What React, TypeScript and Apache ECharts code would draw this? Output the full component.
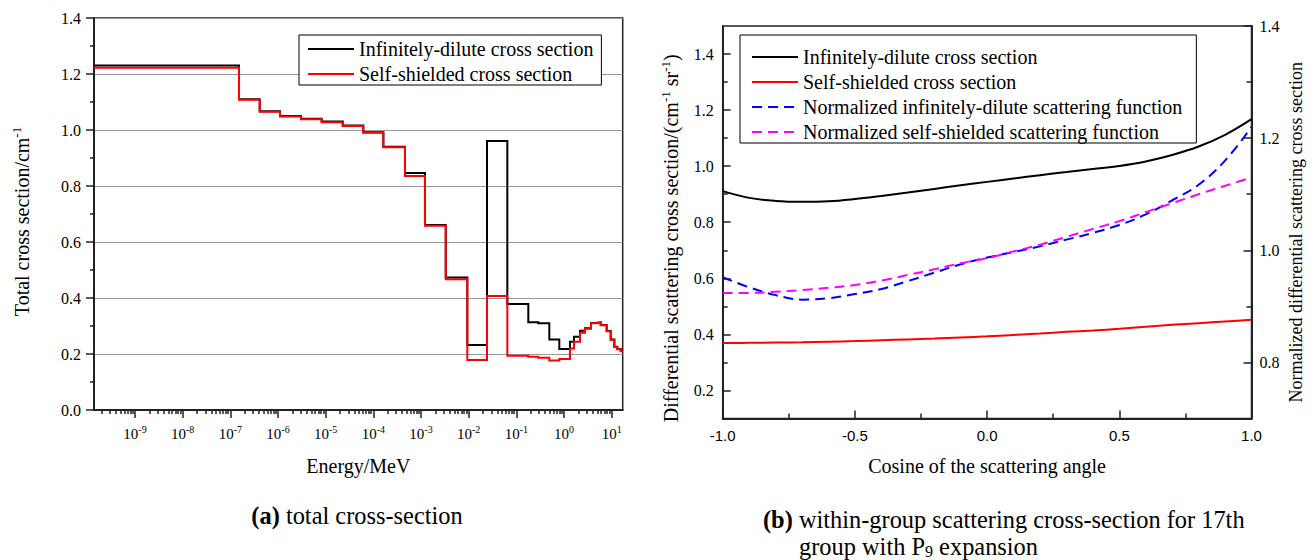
import React, { useEffect, useRef } from 'react';
import * as echarts from 'echarts';

// ---------- (a) total cross-section: group boundaries (MeV) and group values ----------
const energyBounds = [
  1.38e-10, 1.52e-7, 4.13e-7, 1.1e-6, 3.03e-6, 8.24e-6, 2.28e-5, 6.15e-5, 1.62e-4, 4.61e-4,
  1.21e-3, 3.3e-3, 9.35e-3, 2.42e-2, 6.46e-2, 0.178, 0.288, 0.491, 0.796, 1.33,
  1.62, 2.16, 2.75, 3.68, 4.47, 5.87, 7.85, 9.53, 11.35, 13.1, 15.5, 17.0,
];
const diluteTotal = [
  1.230, 1.110, 1.067, 1.050, 1.040, 1.030, 1.016, 0.992, 0.940, 0.846,
  0.661, 0.473, 0.232, 0.961, 0.379, 0.313, 0.310, 0.252, 0.218, 0.244,
  0.262, 0.283, 0.292, 0.311, 0.313, 0.304, 0.282, 0.252, 0.226, 0.218, 0.211,
];
const shieldedTotal = [
  1.222, 1.108, 1.065, 1.048, 1.038, 1.028, 1.014, 0.990, 0.938, 0.836,
  0.658, 0.467, 0.179, 0.407, 0.194, 0.190, 0.187, 0.177, 0.182, 0.220,
  0.244, 0.276, 0.290, 0.310, 0.312, 0.303, 0.281, 0.251, 0.225, 0.217, 0.210,
];
const decadeExponents = [-9, -8, -7, -6, -5, -4, -3, -2, -1, 0, 1];
const minorMantissas = [2, 3, 4, 5, 6, 7, 8, 9];

// ---------- (b) within-group scattering ----------
const cosines = [
  -1.0, -0.9, -0.8, -0.7, -0.6, -0.5, -0.4, -0.3, -0.2, -0.1, 0.0,
  0.1, 0.2, 0.3, 0.4, 0.5, 0.6, 0.7, 0.8, 0.9, 1.0,
];
const diffDilute = [
  0.911, 0.887, 0.876, 0.873, 0.875, 0.883, 0.894, 0.906, 0.919, 0.932, 0.944,
  0.956, 0.968, 0.979, 0.990, 1.001, 1.017, 1.040, 1.070, 1.112, 1.168,
];
const diffShielded = [
  0.369, 0.370, 0.371, 0.372, 0.374, 0.376, 0.379, 0.382, 0.385, 0.389, 0.393,
  0.398, 0.403, 0.409, 0.414, 0.420, 0.427, 0.434, 0.440, 0.446, 0.452,
];
const normDilute = [
  0.952, 0.934, 0.920, 0.912, 0.9145, 0.922, 0.931, 0.945, 0.960, 0.975, 0.987,
  0.997, 1.007, 1.019, 1.031, 1.045, 1.064, 1.089, 1.117, 1.160, 1.220,
];
const normShielded = [
  0.924, 0.924, 0.926, 0.929, 0.933, 0.938, 0.946, 0.956, 0.966, 0.977, 0.986,
  0.998, 1.010, 1.024, 1.038, 1.052, 1.068, 1.084, 1.100, 1.115, 1.130,
];
const leftTicksB = [0.2, 0.4, 0.6, 0.8, 1.0, 1.2, 1.4];
const leftMinorB = [0.3, 0.5, 0.7, 0.9, 1.1, 1.3];
const rightTicksB = [0.8, 1.0, 1.2, 1.4];
const rightMinorB = [0.9, 1.1, 1.3];

const NAME_D = 'Infinitely-dilute cross section';
const NAME_S = 'Self-shielded cross section';
const NAME_ND = 'Normalized infinitely-dilute scattering function';
const NAME_NS = 'Normalized self-shielded scattering function';

const SERIF = 'Liberation Serif, Times New Roman, serif';
const SANS = 'Liberation Sans, Arial, sans-serif';
const AX = '#222';
const CAP = 24.4;

function stepPoints(vals: number[]) {
  const pts = vals.map((v, i) => [Math.log10(energyBounds[i]), v]);
  pts.push([Math.log10(energyBounds[vals.length]), vals[vals.length - 1]]);
  return pts;
}
const pairs = (ys: number[]) => cosines.map((c, i) => [c, ys[i]]);

export default function App() {
  const ref = useRef<HTMLDivElement>(null);
  useEffect(() => {
    if (!ref.current) return;
    const chart = echarts.init(ref.current, undefined, { renderer: 'svg' });
    const logMin = Math.log10(energyBounds[0]);
    const logMax = Math.log10(energyBounds[energyBounds.length - 1]);
    const minorLogs: number[] = [];
    for (let k = -10; k <= 1; k++) {
      minorMantissas.forEach((m) => {
        const v = k + Math.log10(m);
        if (v > logMin && v < logMax) minorLogs.push(v);
      });
    }
    const tickLabel = { fontFamily: SERIF, fontSize: 16, color: '#000' };
    const legendCommon = {
      orient: 'vertical',
      itemGap: 5,
      itemWidth: 46,
      itemHeight: 14,
      borderColor: '#000',
      borderWidth: 1,
      borderRadius: 0,
      backgroundColor: '#fff',
      selectedMode: false,
      itemStyle: { opacity: 0 },
      textStyle: { fontFamily: SERIF, fontSize: 20, color: '#000' },
    };
    const supRich = {
      sup: { fontFamily: SERIF, fontSize: 13, lineHeight: 12, verticalAlign: 'top', color: '#000' },
    };
    const capRich = {
      b: { fontFamily: SERIF, fontSize: CAP, fontWeight: 'bold', fill: '#000', color: '#000' },
      r: { fontFamily: SERIF, fontSize: CAP, fill: '#000', color: '#000' },
    };

    chart.setOption({
      animation: false,
      backgroundColor: '#fff',
      grid: [
        { left: 94, top: 18, width: 528.7, height: 392, show: true, borderColor: AX, borderWidth: 1.5 },
        { left: 722.7, top: 26, width: 528.8, height: 392.5, show: true, borderColor: AX, borderWidth: 1.5 },
      ],
      legend: [
        { ...legendCommon, data: [NAME_D, NAME_S], left: 299, top: 35, padding: [4, 8, 1, 8] },
        { ...legendCommon, data: [NAME_D, NAME_S, NAME_ND, NAME_NS], left: 740, top: 35, padding: [12, 14, 1, 11] },
      ],
      xAxis: [
        {
          gridIndex: 0, type: 'value', min: logMin, max: logMax, position: 'bottom',
          axisLine: { show: true, onZero: false, lineStyle: { color: AX, width: 2 } },
          axisTick: { show: true, customValues: decadeExponents, length: 8, lineStyle: { color: AX, width: 1.5 } },
          axisLabel: {
            show: true, customValues: decadeExponents, margin: 14,
            formatter: (v: number) => `{b|10}{s|${Math.round(v)}}`,
            rich: {
              b: { fontFamily: SERIF, fontSize: 15, lineHeight: 20, color: '#000' },
              s: { fontFamily: SERIF, fontSize: 10, lineHeight: 10, verticalAlign: 'top', color: '#000' },
            },
          },
          splitLine: { show: false },
          name: 'Energy/MeV', nameLocation: 'middle', nameGap: 44,
          nameTextStyle: { fontFamily: SERIF, fontSize: 20, color: '#000', lineHeight: 24 },
        },
        {
          gridIndex: 0, type: 'value', min: logMin, max: logMax, position: 'bottom',
          axisLine: { show: false, onZero: false },
          axisTick: { show: true, customValues: minorLogs, length: 4, lineStyle: { color: AX, width: 1.5 } },
          axisLabel: { show: false },
          splitLine: { show: false },
        },
        {
          gridIndex: 1, type: 'value', min: -1, max: 1, interval: 0.5, position: 'bottom',
          axisLine: { show: true, onZero: false, lineStyle: { color: AX, width: 2 } },
          axisTick: { show: true, inside: true, length: 8, lineStyle: { color: AX, width: 1.5 } },
          minorTick: { show: true, splitNumber: 2, length: 5, lineStyle: { color: AX, width: 1.5 } },
          axisLabel: { show: true, margin: 9, fontFamily: SANS, fontSize: 15, color: '#000', formatter: (v: number) => v.toFixed(1) },
          splitLine: { show: false },
          name: 'Cosine of the scattering angle', nameLocation: 'middle', nameGap: 35,
          nameTextStyle: { fontFamily: SERIF, fontSize: 20, color: '#000', lineHeight: 24 },
        },
      ],
      yAxis: [
        {
          gridIndex: 0, type: 'value', min: 0, max: 1.4, interval: 0.2, position: 'left',
          axisLine: { show: true, onZero: false, lineStyle: { color: AX, width: 2 } },
          axisTick: { show: true, length: 8, lineStyle: { color: AX, width: 1.5 } },
          minorTick: { show: true, splitNumber: 2, length: 4, lineStyle: { color: AX, width: 1.5 } },
          axisLabel: { ...tickLabel, margin: 13, formatter: (v: number) => v.toFixed(1) },
          splitLine: { show: true, lineStyle: { color: '#999', width: 1 } },
          name: 'Total cross section/cm{sup|-1}', nameLocation: 'middle', nameGap: 60,
          nameTextStyle: { fontFamily: SERIF, fontSize: 20, color: '#000', lineHeight: 24, padding: [0, 15, 0, 0], rich: supRich },
        },
        {
          gridIndex: 1, type: 'value', min: 0.1, max: 1.5, position: 'left',
          axisLine: { show: true, onZero: false, lineStyle: { color: AX, width: 2 } },
          axisTick: { show: true, inside: true, customValues: leftTicksB, length: 8, lineStyle: { color: AX, width: 1.5 } },
          axisLabel: { ...tickLabel, customValues: leftTicksB, margin: 9, formatter: (v: number) => v.toFixed(1) },
          splitLine: { show: false },
          name: 'Differential scattering cross section/(cm{sup|-1} sr{sup|-1})', nameLocation: 'middle', nameGap: 40,
          nameTextStyle: { fontFamily: SERIF, fontSize: 20, color: '#000', lineHeight: 24, padding: [0, 32, 0, 0], rich: supRich },
        },
        {
          gridIndex: 1, type: 'value', min: 0.7, max: 1.4, position: 'right',
          axisLine: { show: true, onZero: false, lineStyle: { color: AX, width: 2 } },
          axisTick: { show: true, inside: true, customValues: rightTicksB, length: 8, lineStyle: { color: AX, width: 1.5 } },
          axisLabel: { ...tickLabel, customValues: rightTicksB, margin: 8, formatter: (v: number) => v.toFixed(1) },
          splitLine: { show: false },
          name: 'Normalized differential scattering cross section', nameLocation: 'middle', nameGap: 32,
          nameTextStyle: { fontFamily: SERIF, fontSize: 18, color: '#000', lineHeight: 24, padding: [0, 20, 0, 0] },
        },
        {
          gridIndex: 1, type: 'value', min: 0.1, max: 1.5, position: 'left',
          axisLine: { show: false, onZero: false },
          axisTick: { show: true, inside: true, customValues: leftMinorB, length: 5, lineStyle: { color: AX, width: 1.5 } },
          axisLabel: { show: false },
          splitLine: { show: false },
        },
        {
          gridIndex: 1, type: 'value', min: 0.7, max: 1.4, position: 'right',
          axisLine: { show: false, onZero: false },
          axisTick: { show: true, inside: true, customValues: rightMinorB, length: 5, lineStyle: { color: AX, width: 1.5 } },
          axisLabel: { show: false },
          splitLine: { show: false },
        },
      ],
      series: [
        {
          name: NAME_D, type: 'line', xAxisIndex: 0, yAxisIndex: 0, step: 'end', symbol: 'none',
          data: stepPoints(diluteTotal), lineStyle: { color: '#000', width: 2, join: 'miter' }, itemStyle: { color: '#000' }, z: 2,
        },
        {
          name: NAME_S, type: 'line', xAxisIndex: 0, yAxisIndex: 0, step: 'end', symbol: 'none',
          data: stepPoints(shieldedTotal), lineStyle: { color: '#ff0000', width: 2, join: 'miter' }, itemStyle: { color: '#ff0000' }, z: 3,
        },
        {
          name: NAME_D, type: 'line', xAxisIndex: 2, yAxisIndex: 1, smooth: 0.4, symbol: 'none',
          data: pairs(diffDilute), lineStyle: { color: '#000', width: 2 }, itemStyle: { color: '#000' }, z: 2,
        },
        {
          name: NAME_S, type: 'line', xAxisIndex: 2, yAxisIndex: 1, smooth: 0.4, symbol: 'none',
          data: pairs(diffShielded), lineStyle: { color: '#ff0000', width: 2 }, itemStyle: { color: '#ff0000' }, z: 2,
        },
        {
          name: NAME_ND, type: 'line', xAxisIndex: 2, yAxisIndex: 2, smooth: 0.4, symbol: 'none',
          data: pairs(normDilute), lineStyle: { color: '#0000ff', width: 2, type: [10, 6] }, itemStyle: { color: '#0000ff' }, z: 3,
        },
        {
          name: NAME_NS, type: 'line', xAxisIndex: 2, yAxisIndex: 2, smooth: 0.4, symbol: 'none',
          data: pairs(normShielded), lineStyle: { color: '#ff00ff', width: 2, type: [10, 6] }, itemStyle: { color: '#ff00ff' }, z: 4,
        },
      ],
      graphic: [
        {
          type: 'text', x: 357, y: 515,
          style: {
            text: '{b|(a)}{r| total cross-section}',
            fontFamily: SERIF, fontSize: CAP, fill: '#000',
            align: 'center', textAlign: 'center', verticalAlign: 'middle', textVerticalAlign: 'middle',
            rich: capRich,
          },
        },
        {
          type: 'text', x: 763, y: 519,
          style: {
            text: '{b|(b)}{r| within-group scattering cross-section for 17th}',
            fontFamily: SERIF, fontSize: CAP, fill: '#000',
            align: 'left', textAlign: 'left', verticalAlign: 'middle', textVerticalAlign: 'middle',
            rich: capRich,
          },
        },
        {
          type: 'text', x: 799, y: 546,
          style: {
            text: '{r|group with P}{sub|9}{r| expansion}',
            fontFamily: SERIF, fontSize: CAP, fill: '#000',
            align: 'left', textAlign: 'left', verticalAlign: 'middle', textVerticalAlign: 'middle',
            rich: {
              r: { fontFamily: SERIF, fontSize: CAP, lineHeight: 27, fill: '#000', color: '#000' },
              sub: { fontFamily: SERIF, fontSize: 16, lineHeight: 16, verticalAlign: 'bottom', fill: '#000', color: '#000' },
            },
          },
        },
      ],
    });
    return () => chart.dispose();
  }, []);
  return (
    <div
      ref={ref}
      style={{ position: 'fixed', left: 0, top: 0, width: 1312, height: 560, background: '#fff' }}
    />
  );
}
